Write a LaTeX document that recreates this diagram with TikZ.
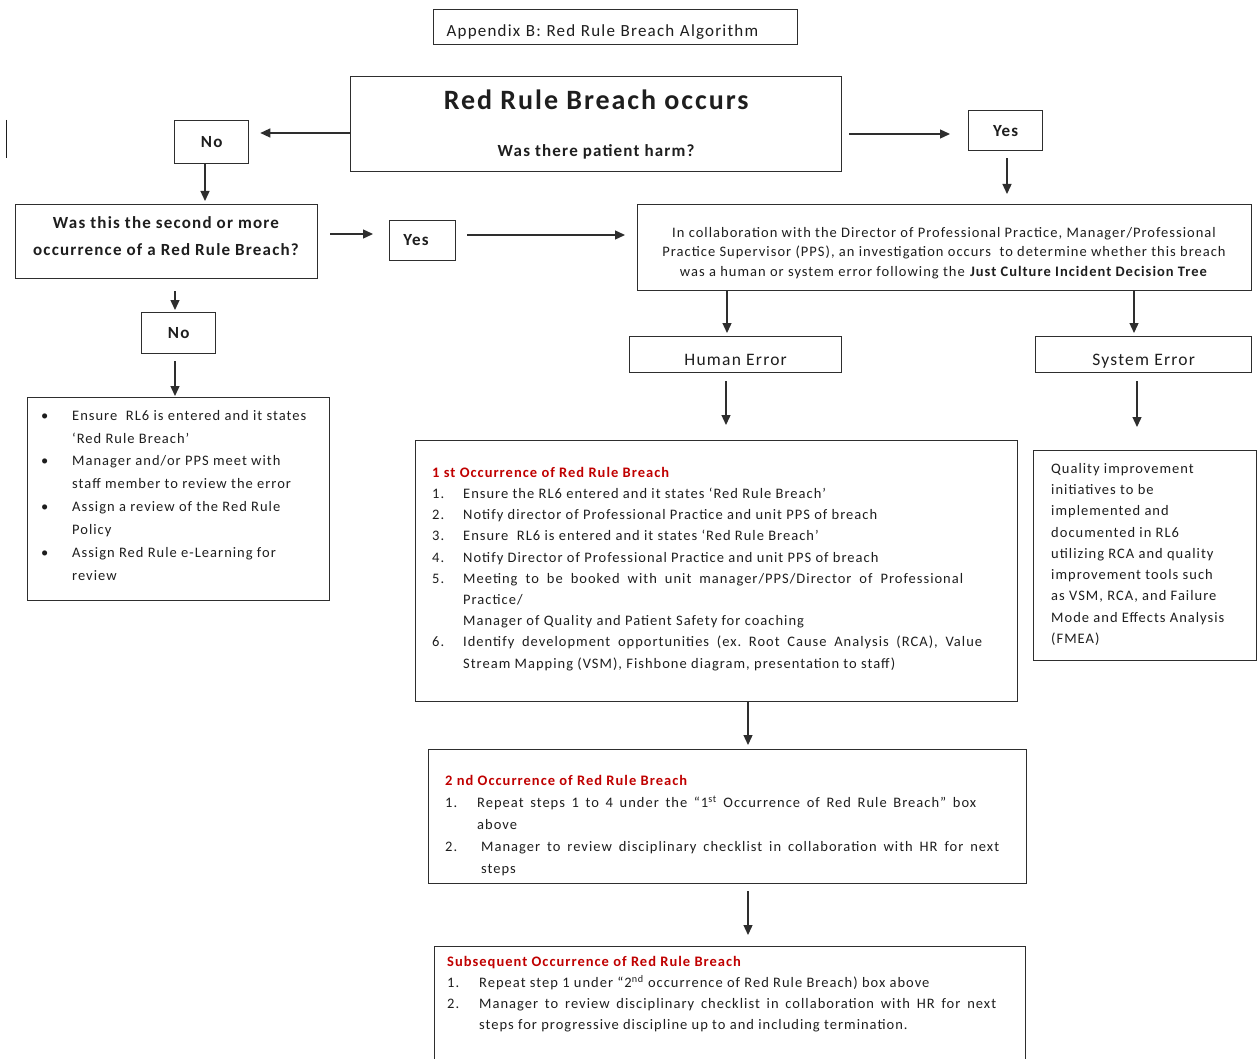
\documentclass[tikz,border=0pt]{standalone}
\usepackage{fontspec}
\setmainfont{Carlito}[LetterSpace=7]
\usetikzlibrary{arrows.meta}
\definecolor{rrInk}{HTML}{1E1E1E}
\definecolor{rrLine}{HTML}{2E2E2E}
\definecolor{rrRed}{HTML}{C00000}
\newcommand{\numcol}[2]{\makebox[#1][l]{#2}}
\frenchspacing
\tikzset{
  box/.style={rectangle, draw=rrLine, line width=1.3pt, inner sep=0pt,
    anchor=north west, text=rrInk},
  answerBox/.style={box, minimum width=74pt, minimum height=42pt,
    font=\fontsize{17}{20}\selectfont\bfseries},
  errorBox/.style={box, minimum height=36pt, text height=22pt, text depth=0pt,
    font=\fontsize{17.5}{20}\selectfont},
  boxText/.style={inner sep=0pt, align=center, text=rrInk},
  listText/.style={anchor=north west, inner sep=0pt, align=left, text=rrInk},
  flow/.style={-{Triangle[length=10pt, width=9pt]}, line width=1.3pt, draw=rrLine},
}

\begin{document}
\begin{tikzpicture}[x=1pt,y=-1pt]
  \fill[white] (0,0) rectangle (1257,1059);
  \useasboundingbox (0,0) rectangle (1257,1059);

  \draw[rrInk, line width=1pt] (6,120) -- (6,158);

  \node[box, minimum width=364pt, minimum height=35pt, inner xsep=13pt,
    text width=338pt, align=left, text height=19pt, text depth=0pt,
    font=\fontsize{17}{20}\selectfont] (title) at (433,9)
    {Appendix B: Red Rule Breach Algorithm};

  \node[box, minimum width=491pt, minimum height=95pt, align=center,
    font=\fontsize{17}{20}\selectfont\bfseries] (breach) at (350,76)
    {{\fontsize{28}{34}\selectfont Red Rule Breach occurs}\\[27pt]Was there patient harm?};

  \node[answerBox, minimum height=43pt] (noHarm) at (174,120) {No};
  \node[answerBox, minimum height=40pt] (yesHarm) at (968,110) {Yes};

  \node[box, minimum width=302pt, minimum height=74pt] (repeatQ) at (15,204) {};
  \node[boxText, font=\fontsize{17}{27}\selectfont\bfseries] (repeatQText) at (166,236)
    {Was this the second or more\\occurrence of a Red Rule Breach?};
  \node[answerBox, minimum width=66pt, minimum height=40pt] (yesRepeat) at (389,220) {};
  \node[boxText, font=\fontsize{17}{20}\selectfont\bfseries] (yesRepeatText) at (416,240) {Yes};

  \node[box, minimum width=614pt, minimum height=86pt] (investigate) at (637,204) {};
  \node[boxText, font=\fontsize{14.5}{19.5}\selectfont] (investigateText) at (944,253)
    {In collaboration with the Director of Professional Practice, Manager/Professional\\
     Practice Supervisor (PPS), an investigation occurs\ \ to determine whether this breach\\
     was a human or system error following the \textbf{Just Culture Incident Decision Tree}};

  \node[answerBox, minimum height=41pt] (noRepeat) at (141,312) {No};
  \node[errorBox, minimum width=212pt] (human) at (629,336) {Human Error};
  \node[errorBox, minimum width=216pt] (system) at (1035,336) {System Error};

  % left lane: first breach, no harm
  \node[box, minimum width=302pt, minimum height=203pt] (noHarmSteps) at (27,397) {};
  \node[listText, font=\fontsize{14.5}{22.85}\selectfont] (noHarmText) at (41,410)
    {\numcol{31pt}{\textbullet}Ensure\ \ RL6 is entered and it states\\
     \hspace*{31pt}‘Red Rule Breach’\\
     \numcol{31pt}{\textbullet}Manager and/or PPS meet with\\
     \hspace*{31pt}staff member to review the error\\
     \numcol{31pt}{\textbullet}Assign a review of the Red Rule\\
     \hspace*{31pt}Policy\\
     \numcol{31pt}{\textbullet}Assign Red Rule e-Learning for\\
     \hspace*{31pt}review};

  % human error lane
  \node[box, minimum width=602pt, minimum height=261pt] (firstOcc) at (415,440) {};
  \node[listText, font=\fontsize{14.5}{21.2}\selectfont] (firstOccText) at (432,467)
    {\textcolor{rrRed}{\textbf{1 st Occurrence\ of Red Rule Breach}}\\
     \numcol{31pt}{1.}Ensure the RL6 entered and it states ‘Red Rule Breach’\\
     \numcol{31pt}{2.}Notify director of\ Professional Practice and unit PPS of breach\\
     \numcol{31pt}{3.}Ensure\ \ RL6 is entered and it states ‘Red Rule Breach’\\
     \numcol{31pt}{4.}Notify Director of\ Professional Practice and unit PPS of breach\\
     \numcol{31pt}{5.}\makebox[500pt][s]{Meeting to be booked with unit manager/PPS/Director of Professional}\\
     \hspace*{31pt}Practice/\\
     \hspace*{31pt}Manager of\ Quality and Patient Safety for coaching\\
     \numcol{31pt}{6.}\makebox[519pt][s]{Identify development opportunities (ex. Root Cause Analysis (RCA), Value}\\
     \hspace*{31pt}Stream Mapping (VSM), Fishbone diagram, presentation to staff)};

  \node[box, minimum width=598pt, minimum height=134pt] (secondOcc) at (428,749) {};
  \node[listText, font=\fontsize{14.5}{22}\selectfont] (secondOccText) at (445,775)
    {\textcolor{rrRed}{\textbf{2 nd Occurrence\ of Red Rule Breach}}\\
     \numcol{32pt}{1.}\makebox[499pt][s]{Repeat steps 1 to 4 under the “1\textsuperscript{st} Occurrence of Red Rule Breach” box}\\
     \hspace*{32pt}above\\
     \numcol{36pt}{2.}\makebox[518pt][s]{Manager to review disciplinary checklist in collaboration with HR for next}\\
     \hspace*{36pt}steps};

  \node[box, minimum width=591pt, minimum height=125pt] (laterOcc) at (434,946) {};
  \node[listText, font=\fontsize{14.5}{21}\selectfont] (laterOccText) at (447,956)
    {\textcolor{rrRed}{\textbf{Subsequent Occurrence of Red Rule\ Breach}}\\
     \numcol{32pt}{1.}Repeat step 1 under “2\textsuperscript{nd} occurrence of Red Rule Breach) box above\\
     \numcol{32pt}{2.}\makebox[517pt][s]{Manager to review disciplinary checklist in collaboration with HR for next}\\
     \hspace*{32pt}steps\ for progressive discipline up to and including termination.};

  % system error lane
  \node[box, minimum width=223pt, minimum height=210pt] (qiBox) at (1033,450) {};
  \node[listText, font=\fontsize{14.5}{21.25}\selectfont] (qiText) at (1051,463)
    {Quality improvement\\
     initiatives to be\\
     implemented and\\
     documented in RL6\\
     utilizing RCA and quality\\
     improvement tools such\\
     as VSM, RCA, and Failure\\
     Mode and Effects\ Analysis\\
     (FMEA)};

  % connectors
  \draw[flow, shorten >=11pt] (breach.west |- 0,133) -- (noHarm.east |- 0,133);
  \draw[flow, shorten <=7pt, shorten >=18pt] (breach.east |- 0,134) -- (yesHarm.west |- 0,134);
  \draw[flow, shorten <=7pt, shorten >=10pt] (yesHarm.south -| 1007,0) -- (investigate.north -| 1007,0);
  \draw[flow, shorten >=3pt] (noHarm.south -| 205,0) -- (repeatQ.north -| 205,0);
  \draw[flow, shorten <=12pt, shorten >=16pt] (repeatQ.east |- 0,234) -- (yesRepeat.west |- 0,234);
  \draw[flow, shorten <=11pt, shorten >=12pt] (yesRepeat.east |- 0,235) -- (investigate.west |- 0,235);
  \draw[flow, shorten >=3pt] (investigate.south -| 727,0) -- (human.north -| 727,0);
  \draw[flow, shorten >=3pt] (investigate.south -| 1134,0) -- (system.north -| 1134,0);
  \draw[flow, shorten <=8pt, shorten >=15pt] (human.south -| 726,0) -- (firstOcc.north -| 726,0);
  \draw[flow, shorten <=8pt, shorten >=23pt] (system.south -| 1137,0) -- (qiBox.north -| 1137,0);
  \draw[flow, shorten <=12pt, shorten >=2pt] (repeatQ.south -| 175,0) -- (noRepeat.north -| 175,0);
  \draw[flow, shorten <=7pt, shorten >=1pt] (noRepeat.south -| 175,0) -- (noHarmSteps.north -| 175,0);
  \draw[flow, shorten >=4pt] (firstOcc.south -| 748,0) -- (secondOcc.north -| 748,0);
  \draw[flow, shorten <=7pt, shorten >=11pt] (secondOcc.south -| 748,0) -- (laterOcc.north -| 748,0);
\end{tikzpicture}
\end{document}
